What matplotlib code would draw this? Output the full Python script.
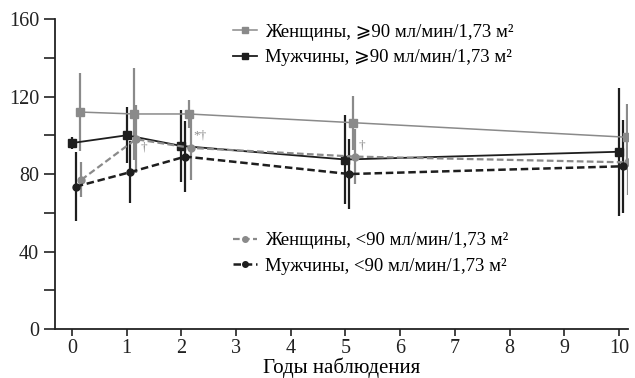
import matplotlib
matplotlib.use("Agg")
import matplotlib.pyplot as plt
from matplotlib.ticker import MultipleLocator

plt.rcParams['font.family'] = ['Liberation Serif', 'DejaVu Serif', 'DejaVu Sans',
                               'Noto Sans CJK SC']

# годы наблюдения
years = [0, 1, 2, 5, 10]

# СКФ, мл/мин/1,73 м2 (среднее и разброс)
women_hi = [112, 111, 111, 106.5, 99]
women_hi_err = [20, 23.5, 7, 14, 17]
men_hi = [96, 100, 94.5, 87.5, 91.5]
men_hi_err = [3, 14.5, 18.5, 23, 33]
women_lo = [77, 98, 93.5, 89, 86]
women_lo_err = [9, 17.5, 16.5, 14, 17]
men_lo = [73.5, 81, 89, 80, 84]
men_lo_err = [18, 16, 18.5, 18, 24]

lbl_women_hi = "Женщины, ⩾90 мл/мин/1,73 м²"
lbl_men_hi = "Мужчины, ⩾90 мл/мин/1,73 м²"
lbl_women_lo = "Женщины, <90 мл/мин/1,73 м²"
lbl_men_lo = "Мужчины, <90 мл/мин/1,73 м²"

gray = '#8a8a8a'
dark = '#1e1e1e'

fig = plt.figure(figsize=(6.35, 3.78), dpi=100)
ax = fig.add_axes([0.0866, 0.1296, 0.902, 0.82])

def series(vals, errs, off, color, ls, lw, marker, ms, label):
    xs = [y + off for y in years]
    ax.errorbar(xs, vals, yerr=errs, fmt='none', ecolor=color, elinewidth=1.6, capsize=0, zorder=2)
    h, = ax.plot(xs, vals, color=color, ls=ls, lw=lw, marker=marker, ms=ms,
                 mfc=color, mec=color, label=label, zorder=3)
    return h

h1 = series(women_hi, women_hi_err, 0.14, gray, '-', 1.1, 's', 5.5, lbl_women_hi)
h2 = series(men_hi, men_hi_err, 0.0, dark, '-', 1.3, 's', 5.5, lbl_men_hi)
h3 = series(women_lo, women_lo_err, 0.17, gray, (0, (3, 1.5)), 1.6, 'o', 5, lbl_women_lo)
h4 = series(men_lo, men_lo_err, 0.07, dark, (0, (3, 1.5)), 1.8, 'o', 5, lbl_men_lo)

# значки достоверности (смещение в пунктах)
marks = [(1, '†', (3, -6)), (2, '*†', (2, 9)), (5, '†', (3, 8))]
for yr, s, off in marks:
    i = years.index(yr)
    ax.annotate(s, (yr + 0.17, women_lo[i]), xytext=off, textcoords='offset points',
                fontsize=9.5, color=gray, ha='left', va='center')

ax.set_xlim(-0.31, 10.16)
ax.set_ylim(0, 160)
ax.set_xticks(range(11))
ax.yaxis.set_major_locator(MultipleLocator(40))
ax.yaxis.set_minor_locator(MultipleLocator(20))
ax.tick_params(axis='both', which='both', direction='out', labelsize=14.5, width=1.2, colors='#222222')
ax.tick_params(axis='y', which='both', length=8)
ax.tick_params(axis='x', length=5, pad=2)
ax.spines['top'].set_visible(False)
ax.spines['right'].set_visible(False)
for s in ['left', 'bottom']:
    ax.spines[s].set_linewidth(1.3)
    ax.spines[s].set_color('#222222')
ax.set_xlabel('Годы наблюдения', fontsize=15, labelpad=0)

leg_kw = dict(loc='upper left', frameon=False, fontsize=13.5, handlelength=1.3,
              handletextpad=0.45, labelspacing=0.45, borderaxespad=0, markerscale=0.8)
leg1 = ax.legend(handles=[h1, h2], bbox_to_anchor=(0.297, 1.01), **leg_kw)
ax.add_artist(leg1)
ax.legend(handles=[h3, h4], bbox_to_anchor=(0.297, 0.337), **leg_kw)

fig.savefig('out.png', dpi=100)
